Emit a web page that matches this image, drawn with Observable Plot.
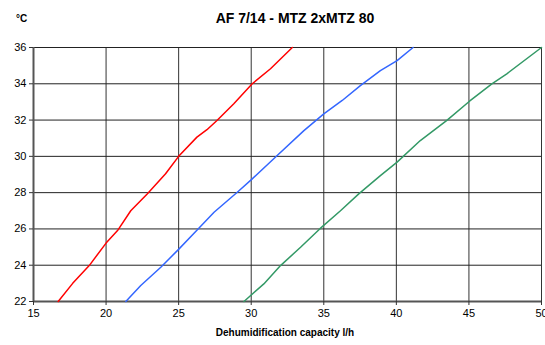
<!DOCTYPE html>
<html>
<head>
<meta charset="utf-8">
<script src="https://cdn.jsdelivr.net/npm/d3@7"></script>
<script src="https://cdn.jsdelivr.net/npm/@observablehq/plot@0.6"></script>
<style>
  html, body { margin: 0; padding: 0; background: #fff; }
  #wrap { position: relative; width: 545px; height: 345px; font-family: "Liberation Sans", Arial, sans-serif; }
  .lbl { position: absolute; font-weight: bold; color: #000; white-space: nowrap; }
  #title { left: 0; width: 590px; top: 10px; text-align: center; font-size: 14px; }
  #unit { left: 16px; top: 13px; font-size: 10px; }
  #xlabel { left: 0; width: 570px; top: 327px; text-align: center; font-size: 10px; }
</style>
</head>
<body>
<div id="wrap">
  <div id="chart"></div>
  <div class="lbl" id="title">AF 7/14 - MTZ 2xMTZ 80</div>
  <div class="lbl" id="unit">°C</div>
  <div class="lbl" id="xlabel">Dehumidification capacity l/h</div>
</div>
<script>
const xTicks = [15, 20, 25, 30, 35, 40, 45, 50];
const yTicks = [22, 24, 26, 28, 30, 32, 34, 36];

const redX = [16.7, 17.7, 18.84, 20.0, 20.79, 21.7, 22.85, 24.1, 25.0, 26.26, 26.95, 27.64, 28.8, 30.07, 31.33, 32.83];
const redY = [22, 23.0, 23.98, 25.22, 25.91, 27.0, 27.94, 29.04, 30, 31.06, 31.47, 31.98, 32.9, 34, 34.83, 36];

const blueX = [21.36, 22.39, 23.77, 25.03, 26.29, 27.44, 29.04, 30.07, 31.79, 33.63, 35.0, 36.27, 37.52, 38.9, 40.05, 41.15];
const blueY = [22, 22.88, 23.89, 24.9, 25.95, 26.92, 28.02, 28.76, 30.05, 31.42, 32.34, 33.08, 33.9, 34.73, 35.28, 36];

const greenX = [29.5, 30.87, 32.02, 33.4, 34.72, 36.15, 37.41, 38.9, 40.05, 41.65, 43.48, 45.04, 46.58, 47.61, 50.0];
const greenY = [22, 22.97, 23.98, 24.99, 26.0, 27.0, 27.93, 28.94, 29.68, 30.87, 31.98, 33.04, 34.0, 34.55, 36];

const seriesNames = ["S1", "S2", "S3"];
const seriesColors = ["#ff0000", "#3366ff", "#339966"];

const data = [
  ...redX.map((x, i) => ({s: "S1", x, y: redY[i]})),
  ...blueX.map((x, i) => ({s: "S2", x, y: blueY[i]})),
  ...greenX.map((x, i) => ({s: "S3", x, y: greenY[i]}))
];

const chart = Plot.plot({
  width: 545,
  height: 345,
  marginLeft: 33,
  marginRight: 4,
  marginTop: 47,
  marginBottom: 44,
  style: {fontFamily: "Liberation Sans, Arial, sans-serif", fontSize: "11px", color: "#000", background: "#fff", overflow: "visible"},
  x: {domain: [15, 50], ticks: xTicks},
  y: {domain: [22, 36], ticks: yTicks},
  color: {domain: seriesNames, range: seriesColors},
  marks: [
    Plot.gridX(xTicks, {stroke: "#333", strokeOpacity: 1, strokeWidth: 1}),
    Plot.gridY(yTicks, {stroke: "#222", strokeOpacity: 1, strokeWidth: 1}),
    Plot.ruleX([15], {stroke: "#555", strokeWidth: 2}),
    Plot.ruleY([22], {stroke: "#555", strokeWidth: 2}),
    Plot.axisX(xTicks, {tickSize: 4, tickPadding: 4, label: null, stroke: "#333", fontSize: 11}),
    Plot.axisY(yTicks, {tickSize: 4, tickPadding: 3, label: null, stroke: "#333", fontSize: 11}),
    Plot.line(data, {x: "x", y: "y", z: "s", stroke: "s", strokeWidth: 1.5})
  ]
});
document.getElementById("chart").appendChild(chart);
</script>
</body>
</html>
